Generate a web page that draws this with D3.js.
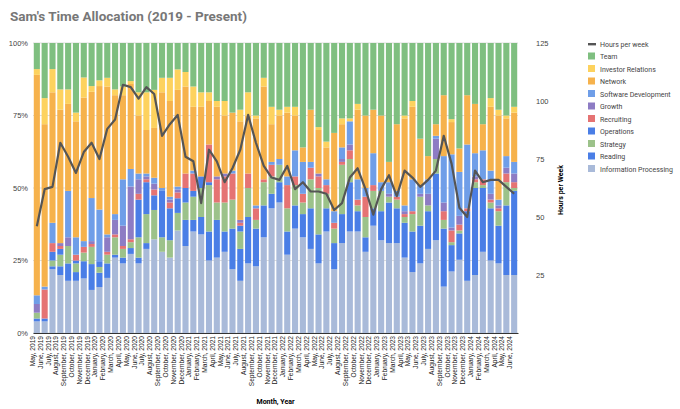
<!DOCTYPE html>
<html lang="en">
<head>
<meta charset="UTF-8">
<title>Sam's Time Allocation</title>
<script src="https://d3js.org/d3.v7.min.js"></script>
<style>
  body { margin: 0; background: #fff; font-family: Roboto, Arial, sans-serif; }
</style>
</head>
<body>
<svg width="680" height="409"></svg>
<script>
const monthNames = ["January","February","March","April","May","June","July","August","September","October","November","December"];
const months = [];
for (let y = 2019; y <= 2024; y++) for (let m = 0; m < 12; m++) {
  if ((y === 2019 && m < 4) || (y === 2024 && m > 5)) continue;
  months.push(monthNames[m] + ", " + y);
}

// stack order bottom -> top
const categories = ["Information Processing","Reading","Strategy","Operations","Recruiting","Growth","Software Development","Network","Investor Relations","Team"];
const colors = ["#a9bad9","#4a7ee6","#9cc28a","#4a7ee6","#e57373","#8d7cc4","#6f9ee8","#f6b24c","#fdd25e","#7fbf80"];

// per-month shares: info, read, strat, ops, recr, growth, soft, network, investor, team
const shares = [
[4,1,2,0,0,3,3,76,2,9],[4,1,0,0,10,0,1,56,9,19],[22,1,2,3,3,0,7,45,8,9],[20,3,4,2,1,1,0,46,7,16],
[18,6,6,0,0,3,16,30,5,16],[18,3,3,1,2,0,6,40,3,24],[19,6,3,0,2,0,2,50,7,12],[15,9,6,0,1,1,15,37,2,15],
[16,5,2,2,0,0,18,43,2,13],[19,5,3,0,1,5,1,51,3,12],[26,1,6,0,1,5,2,41,2,16],[24,2,3,0,1,7,16,29,3,15],
[27,2,2,0,1,18,6,29,1,13],[24,2,7,13,2,5,2,20,8,17],[29,2,10,11,1,1,1,15,13,17],[32,0,10,5,2,2,2,17,13,16],
[28,0,5,16,0,0,1,33,5,12],[26,0,6,11,2,1,1,33,8,12],[35,0,6,5,2,1,1,33,7,9],[30,9,6,5,5,0,0,30,5,10],
[35,4,8,2,6,0,1,22,7,15],[34,6,10,4,0,0,0,24,5,17],[25,10,16,1,13,0,0,15,3,17],[26,13,6,0,8,1,0,24,2,20],
[28,7,10,0,9,1,0,20,5,20],[22,14,10,0,9,0,1,20,0,24],[18,11,6,2,1,1,0,34,4,23],[24,16,10,0,5,0,0,20,8,17],
[23,13,3,0,4,0,1,30,1,25],[33,11,8,0,1,0,0,32,3,12],[43,5,6,0,4,0,1,13,6,22],[45,7,6,0,0,0,2,15,2,23],
[27,8,8,0,8,0,3,22,2,22],[36,8,7,0,3,0,9,12,3,22],[33,8,4,0,3,0,11,5,0,36],[29,14,10,0,4,0,2,18,0,23],
[24,10,16,0,4,1,0,15,1,29],[35,8,5,0,3,0,2,11,2,34],[22,9,5,0,2,0,4,27,0,31],[31,10,17,0,1,1,4,8,2,26],
[35,17,8,0,3,2,8,0,1,26],[35,7,2,0,2,0,7,24,2,21],[28,5,7,0,7,0,3,25,0,25],[37,6,6,0,2,0,11,15,0,23],
[32,10,7,0,0,0,3,23,0,25],[31,14,2,0,0,1,4,7,0,41],[31,12,3,0,1,0,2,23,0,28],[26,12,2,0,1,1,2,30,1,25],
[21,14,6,0,1,0,11,25,2,20],[24,13,10,0,0,1,3,16,0,33],[29,13,2,0,0,4,5,8,0,39],[32,23,5,0,0,7,1,4,0,28],
[16,20,3,0,3,3,16,21,0,18],[21,9,1,0,4,1,25,11,1,26],[25,9,1,0,2,3,15,8,0,36],[18,24,0,0,1,0,22,17,0,18],
[20,30,2,0,1,1,8,17,0,21],[28,22,1,0,2,0,10,9,0,28],[25,18,2,0,1,2,8,22,3,19],[24,13,5,0,1,1,2,29,2,23],
[20,24,8,0,3,2,4,13,1,25],[20,29,1,0,2,3,4,17,2,22]
];

const hours = [46,62,63,82,76,69,78,82,75,88,92,107,106,101,106,103,85,90,94,76,74,56,79,74,65,71,79,94,82,72,
  67,66,72,62,65,61,61,60,53,56,67,71,62,51,62,68,59,70,67,63,66,70,85,73,54,50,70,65,66,66,63,60];

const pctTicks = [0, 0.25, 0.5, 0.75, 1];
const hourTicks = [25, 50, 75, 100, 125];

const svg = d3.select("svg");
const m = {top: 43, right: 162, bottom: 76, left: 33};
const W = 680, H = 409;
const iw = W - m.left - m.right, ih = H - m.top - m.bottom;
const g = svg.append("g").attr("transform", `translate(${m.left},${m.top})`);

const x = d3.scaleBand().domain(months).range([0, iw]).paddingInner(0.22).paddingOuter(0.1);
const y = d3.scaleLinear().domain([0, 1]).range([ih, 0]);
const yh = d3.scaleLinear().domain([0, 125]).range([ih, 0]);

const table = shares.map((r, i) => {
  const o = {month: months[i]};
  categories.forEach((c, j) => o[c] = r[j]);
  return o;
});
const series = d3.stack().keys(categories).offset(d3.stackOffsetExpand)(table);

svg.append("text").attr("x", 10).attr("y", 21)
  .attr("font-size", 13.5).attr("font-weight", "bold").attr("fill", "#777")
  .text("Sam's Time Allocation (2019 - Present)");

// grid
g.append("g").selectAll("line").data(pctTicks).join("line")
  .attr("x1", 0).attr("x2", iw).attr("y1", d => y(d)).attr("y2", d => y(d))
  .attr("stroke", "#ddd");

g.append("g").selectAll("g").data(series).join("g")
  .attr("fill", (d, i) => colors[i])
  .selectAll("rect").data(d => d).join("rect")
  .attr("x", d => x(d.data.month)).attr("width", x.bandwidth())
  .attr("y", d => y(d[1])).attr("height", d => y(d[0]) - y(d[1]));

const line = d3.line().x((d, i) => x(months[i]) + x.bandwidth() / 2).y(d => yh(d));
g.append("path").datum(hours).attr("d", line)
  .attr("fill", "none").attr("stroke", "#555").attr("stroke-width", 2.2).attr("stroke-linejoin", "round");

// left axis
const ya = g.append("g").call(d3.axisLeft(y).tickValues(pctTicks).tickFormat(d3.format(".0%")).tickSize(0).tickPadding(5));
ya.select(".domain").remove();
ya.selectAll("text").attr("font-size", 7.5).attr("fill", "#444");

// right axis
const yr = g.append("g").attr("transform", `translate(${iw},0)`)
  .call(d3.axisRight(yh).tickValues(hourTicks).tickSize(0).tickPadding(18));
yr.select(".domain").remove();
yr.selectAll("text").attr("font-size", 7.5).attr("fill", "#444");

svg.append("text").attr("transform", `translate(563,${m.top + ih / 2 + 2}) rotate(-90)`)
  .attr("text-anchor", "middle").attr("font-size", 7).attr("font-weight", "bold").text("Hours per Week");

// x axis
const xa = g.append("g").attr("transform", `translate(0,${ih})`).call(d3.axisBottom(x).tickSize(0).tickPadding(3));
xa.select(".domain").attr("stroke", "#333");
xa.selectAll("text").attr("font-size", 6.6).attr("fill", "#222")
  .attr("text-anchor", "end").attr("transform", "rotate(-90)")
  .attr("dx", "-3").attr("dy", "-0.3em").attr("y", 0);

svg.append("text").attr("x", m.left + iw / 2).attr("y", 404).attr("text-anchor", "middle")
  .attr("font-size", 7).attr("font-weight", "bold").text("Month, Year");

// legend
const legendItems = ["Hours per week"].concat(categories.slice().reverse());
const lg = svg.append("g").attr("transform", "translate(588,44)");
const li = lg.selectAll("g").data(legendItems).join("g").attr("transform", (d, i) => `translate(0,${i * 12.5})`);
li.each(function(d, i) {
  const s = d3.select(this);
  if (i === 0) s.append("rect").attr("x", 0).attr("y", -1).attr("width", 8).attr("height", 2.4).attr("fill", "#555");
  else s.append("rect").attr("x", 0).attr("y", -4).attr("width", 7).attr("height", 7).attr("fill", colors[categories.length - i]);
});
li.append("text").attr("x", 12).attr("y", 2.5).attr("font-size", 7).attr("fill", "#444").text(d => d);
</script>
</body>
</html>
